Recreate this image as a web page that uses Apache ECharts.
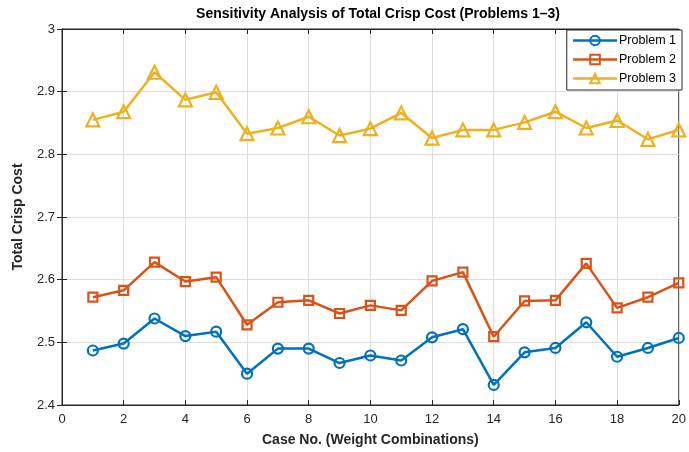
<!DOCTYPE html>
<html>
<head>
<meta charset="utf-8">
<script src="https://cdn.jsdelivr.net/npm/echarts@6/dist/echarts.min.js"></script>
<style>
html,body{margin:0;padding:0;background:#fff;}
#chart{width:689px;height:452px;}
</style>
</head>
<body>
<div id="chart"></div>
<script>
const cases = [1,2,3,4,5,6,7,8,9,10,11,12,13,14,15,16,17,18,19,20];
const problem1 = [2.487,2.498,2.538,2.510,2.517,2.450,2.490,2.490,2.467,2.479,2.471,2.508,2.521,2.432,2.484,2.491,2.532,2.477,2.491,2.507];
const problem2 = [2.572,2.583,2.628,2.597,2.604,2.528,2.564,2.567,2.546,2.559,2.551,2.598,2.612,2.509,2.566,2.567,2.626,2.555,2.572,2.595];
const problem3 = [2.855,2.868,2.931,2.887,2.899,2.833,2.842,2.860,2.830,2.841,2.866,2.826,2.839,2.839,2.851,2.868,2.842,2.854,2.824,2.839];
const seriesNames = ['Problem 1','Problem 2','Problem 3'];
const colors = ['#0072BD','#D95319','#EDB120'];
const symbols = ['circle','rect','triangle'];
const symbolSizes = [10,9,13];
const xTicks = [0,2,4,6,8,10,12,14,16,18,20];
const yTicks = [2.4,2.5,2.6,2.7,2.8,2.9,3];

const font = 'Liberation Sans, Arial, Helvetica, sans-serif';
const dataSets = [problem1, problem2, problem3];

const chart = echarts.init(document.getElementById('chart'), null, {renderer:'canvas'});
const series = dataSets.map((d, i) => ({
  name: seriesNames[i],
  type: 'line',
  data: cases.map((c, j) => [c, d[j]]),
  symbol: symbols[i],
  symbolSize: symbolSizes[i],
  showAllSymbol: true,
  lineStyle: {color: colors[i], width: 2.5},
  itemStyle: {color: 'rgba(255,255,255,0)', borderColor: colors[i], borderWidth: 2.2},
  emphasis: {disabled: true},
  animation: false,
  z: 3
}));

const option = {
  animation: false,
  backgroundColor: '#fff',
  title: {
    text: 'Sensitivity Analysis of Total Crisp Cost (Problems 1\u20133)',
    left: 373, top: 2, textAlign: 'center',
    textStyle: {fontFamily: font, fontSize: 14, fontWeight: 'bold', color: '#000'}
  },
  legend: {
    data: seriesNames,
    orient: 'vertical',
    right: 7, top: 30,
    itemWidth: 44, itemHeight: 12, itemGap: 6,
    padding: [4, 6, 5, 5],
    backgroundColor: '#fff',
    borderColor: '#262626', borderWidth: 1,
    lineStyle: {width: 2.5},
    textStyle: {fontFamily: font, fontSize: 12.5, color: '#000', padding: [0,0,0,-3]}
  },
  grid: {left: 62, right: 6, top: 29, bottom: 46, show: true, borderColor: '#262626', borderWidth: 1},
  xAxis: [{
    type: 'value', min: 0, max: 20, interval: 2,
    name: 'Case No. (Weight Combinations)', nameLocation: 'middle', nameGap: 28,
    nameTextStyle: {fontFamily: font, fontSize: 14, fontWeight: 'bold', color: '#262626'},
    axisLine: {show: true, lineStyle: {color: '#262626', width: 1}},
    axisTick: {show: true, inside: true, length: 5, lineStyle: {color: '#262626'}},
    axisLabel: {fontFamily: font, fontSize: 13, color: '#262626', margin: 8,
      formatter: v => xTicks.includes(v) ? String(v) : ''},
    splitLine: {show: true, lineStyle: {color: '#dedede', width: 1}}
  }, {
    type: 'value', position: 'top', min: 0, max: 20, interval: 2,
    axisLine: {show: true, lineStyle: {color: '#262626', width: 1}},
    axisTick: {show: true, inside: true, length: 5, lineStyle: {color: '#262626'}},
    axisLabel: {show: false}, splitLine: {show: false}
  }],
  yAxis: [{
    type: 'value', min: 2.4, max: 3, interval: 0.1,
    name: 'Total Crisp Cost', nameLocation: 'middle', nameGap: 37,
    nameTextStyle: {fontFamily: font, fontSize: 14, fontWeight: 'bold', color: '#262626'},
    axisLine: {show: true, lineStyle: {color: '#262626', width: 1}},
    axisTick: {show: true, inside: true, length: 5, lineStyle: {color: '#262626'}},
    axisLabel: {fontFamily: font, fontSize: 13, color: '#262626', margin: 7,
      formatter: v => { const t = yTicks.find(y => Math.abs(y - v) < 1e-6); return t === undefined ? '' : String(t); }},
    splitLine: {show: true, lineStyle: {color: '#dedede', width: 1}}
  }, {
    type: 'value', position: 'right', min: 2.4, max: 3, interval: 0.1,
    axisLine: {show: true, lineStyle: {color: '#262626', width: 1}},
    axisTick: {show: true, inside: true, length: 5, lineStyle: {color: '#262626'}},
    axisLabel: {show: false}, splitLine: {show: false}
  }],
  series: series
};
chart.setOption(option);
</script>
</body>
</html>
